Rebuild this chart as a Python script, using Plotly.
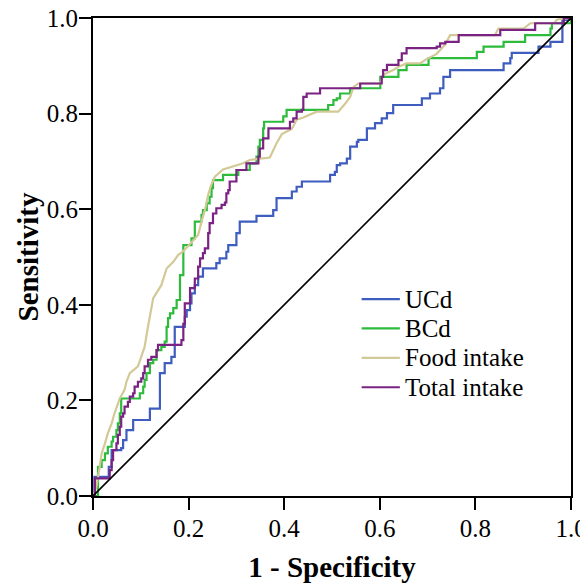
import plotly.graph_objects as go

# ---- data ----
ucd_x = [0, 0.003, 0.033, 0.033, 0.039, 0.059, 0.063, 0.07, 0.084, 0.115, 0.119, 0.14, 0.14, 0.15, 0.164,
         0.171, 0.171, 0.192, 0.192, 0.196, 0.203, 0.206, 0.213, 0.22, 0.23, 0.258, 0.258, 0.265, 0.279,
         0.283, 0.293, 0.3, 0.307, 0.307, 0.342, 0.342, 0.377, 0.377, 0.384, 0.416, 0.416, 0.426, 0.437,
         0.496, 0.496, 0.506, 0.51, 0.517, 0.531, 0.538, 0.552, 0.555, 0.573, 0.59, 0.604, 0.615, 0.628,
         0.681, 0.688, 0.705, 0.726, 0.733, 0.747, 0.855, 0.859, 0.873, 0.876, 0.929, 0.932, 0.957, 0.957,
         0.982, 0.982, 1]
ucd_y = [0, 0.04, 0.04, 0.061, 0.096, 0.1, 0.117, 0.138, 0.159, 0.159, 0.183, 0.183, 0.257, 0.278, 0.291,
         0.326, 0.354, 0.354, 0.375, 0.389, 0.403, 0.424, 0.441, 0.459, 0.476, 0.476, 0.487, 0.497, 0.511,
         0.525, 0.525, 0.55, 0.563, 0.574, 0.574, 0.586, 0.586, 0.598, 0.623, 0.623, 0.637, 0.647, 0.658,
         0.658, 0.672, 0.678, 0.692, 0.696, 0.706, 0.731, 0.741, 0.745, 0.769, 0.78, 0.79, 0.801, 0.818,
         0.818, 0.832, 0.842, 0.853, 0.877, 0.891, 0.891, 0.905, 0.916, 0.927, 0.927, 0.94, 0.94, 0.95,
         0.95, 0.996, 1]

bcd_x = [0, 0.0105, 0.018, 0.025, 0.031, 0.039, 0.042, 0.049, 0.052, 0.056, 0.059, 0.094, 0.098, 0.105,
         0.108, 0.112, 0.119, 0.126, 0.133, 0.143, 0.15, 0.154, 0.157, 0.161, 0.168, 0.175, 0.182, 0.182,
         0.189, 0.189, 0.203, 0.206, 0.213, 0.224, 0.227, 0.23, 0.238, 0.244, 0.248, 0.251, 0.272, 0.272,
         0.304, 0.304, 0.328, 0.328, 0.342, 0.346, 0.349, 0.356, 0.358, 0.398, 0.398, 0.405, 0.492, 0.492,
         0.503, 0.51, 0.517, 0.538, 0.538, 0.597, 0.601, 0.639, 0.639, 0.656, 0.656, 0.695, 0.702, 0.803,
         0.803, 0.817, 0.817, 0.859, 0.859, 0.897, 0.904, 0.953, 0.957, 0.96, 0.985, 1]
bcd_y = [0, 0.061, 0.075, 0.089, 0.103, 0.114, 0.124, 0.138, 0.152, 0.173, 0.204, 0.204, 0.215, 0.229,
         0.243, 0.257, 0.278, 0.285, 0.305, 0.312, 0.323, 0.354, 0.372, 0.382, 0.393, 0.41, 0.438, 0.462,
         0.48, 0.525, 0.525, 0.539, 0.574, 0.574, 0.588, 0.598, 0.612, 0.626, 0.644, 0.661, 0.661, 0.672,
         0.672, 0.682, 0.682, 0.696, 0.71, 0.731, 0.745, 0.769, 0.783, 0.783, 0.794, 0.808, 0.808, 0.818,
         0.828, 0.832, 0.842, 0.842, 0.853, 0.853, 0.877, 0.877, 0.891, 0.891, 0.902, 0.902, 0.916, 0.916,
         0.929, 0.929, 0.94, 0.94, 0.95, 0.95, 0.964, 0.964, 0.978, 0.989, 0.989, 1]

food_x = [0, 0.007, 0.014, 0.018, 0.025, 0.031, 0.039, 0.045, 0.056, 0.066, 0.07, 0.077, 0.094, 0.101,
          0.108, 0.115, 0.126, 0.143, 0.154, 0.168, 0.178, 0.189, 0.22, 0.227, 0.234, 0.241, 0.247, 0.255,
          0.272, 0.314, 0.328, 0.37, 0.384, 0.395, 0.416, 0.426, 0.44, 0.468, 0.513, 0.527, 0.538, 0.545,
          0.555, 0.601, 0.607, 0.628, 0.639, 0.656, 0.684, 0.698, 0.719, 0.737, 0.747, 0.841, 0.848, 0.901,
          0.915, 0.964, 0.971, 1]
food_y = [0, 0.019, 0.061, 0.089, 0.11, 0.131, 0.152, 0.173, 0.204, 0.222, 0.239, 0.257, 0.271, 0.291,
          0.312, 0.354, 0.414, 0.441, 0.476, 0.49, 0.504, 0.512, 0.546, 0.574, 0.598, 0.63, 0.65, 0.668,
          0.683, 0.696, 0.703, 0.708, 0.738, 0.757, 0.768, 0.787, 0.792, 0.804, 0.804, 0.82, 0.835, 0.856,
          0.863, 0.863, 0.881, 0.891, 0.898, 0.905, 0.905, 0.914, 0.925, 0.945, 0.964, 0.964, 0.978, 0.978,
          0.989, 0.989, 0.997, 1]

total_x = [0, 0.004, 0.034, 0.035, 0.039, 0.042, 0.049, 0.052, 0.056, 0.059, 0.063, 0.066, 0.073, 0.077,
           0.084, 0.087, 0.094, 0.101, 0.105, 0.108, 0.115, 0.122, 0.133, 0.136, 0.185, 0.185, 0.189, 0.192,
           0.203, 0.213, 0.22, 0.224, 0.23, 0.234, 0.241, 0.244, 0.251, 0.258, 0.269, 0.276, 0.279, 0.283,
           0.286, 0.3, 0.3, 0.321, 0.321, 0.342, 0.346, 0.349, 0.356, 0.367, 0.367, 0.412, 0.412, 0.419,
           0.426, 0.437, 0.44, 0.447, 0.464, 0.475, 0.541, 0.559, 0.601, 0.604, 0.607, 0.615, 0.636, 0.639,
           0.646, 0.656, 0.719, 0.726, 0.737, 0.761, 0.765, 0.845, 0.852, 0.922, 0.925, 0.978, 0.985, 1]
total_y = [0, 0.037, 0.037, 0.054, 0.075, 0.096, 0.11, 0.128, 0.145, 0.166, 0.173, 0.187, 0.197, 0.208,
           0.215, 0.229, 0.239, 0.246, 0.257, 0.271, 0.285, 0.291, 0.305, 0.316, 0.316, 0.326, 0.36, 0.403,
           0.435, 0.455, 0.48, 0.497, 0.508, 0.518, 0.55, 0.571, 0.591, 0.602, 0.609, 0.614, 0.633, 0.64,
           0.658, 0.668, 0.682, 0.682, 0.696, 0.696, 0.71, 0.727, 0.748, 0.766, 0.769, 0.769, 0.783, 0.79,
           0.804, 0.808, 0.835, 0.842, 0.842, 0.853, 0.853, 0.863, 0.863, 0.877, 0.891, 0.902, 0.902, 0.912,
           0.926, 0.937, 0.94, 0.947, 0.95, 0.95, 0.964, 0.964, 0.975, 0.975, 0.989, 0.989, 1, 1]

ref_x = [0, 1]
ref_y = [0, 1]

tick_vals = [0, 0.2, 0.4, 0.6, 0.8, 1.0]
tick_text = ["0.0", "0.2", "0.4", "0.6", "0.8", "1.0"]

series_names = ["UCd", "BCd", "Food intake", "Total intake"]
series_colors = ["#3F5CBF", "#2DBB3C", "#D3C996", "#7A2382"]
series_shapes = ["hv", "hv", "linear", "hv"]
series_x = [ucd_x, bcd_x, food_x, total_x]
series_y = [ucd_y, bcd_y, food_y, total_y]

FONT = "Liberation Serif, Times New Roman, serif"

fig = go.Figure()
for name, xs, ys, color, shape in zip(series_names, series_x, series_y, series_colors, series_shapes):
    fig.add_trace(go.Scatter(x=xs, y=ys, mode="lines", name=name, showlegend=False,
                             line=dict(color=color, width=2.2, shape=shape)))
fig.add_trace(go.Scatter(x=ref_x, y=ref_y, mode="lines", showlegend=False,
                         line=dict(color="black", width=1.6), hoverinfo="skip"))

# legend drawn in paper coordinates (compact spacing like the reference)
leg_x0, leg_x1, leg_tx = 0.562, 0.642, 0.648
leg_y0, leg_dy = 0.412, 0.0615
for i, (name, color) in enumerate(zip(series_names, series_colors)):
    yy = leg_y0 - i * leg_dy
    fig.add_shape(type="line", xref="paper", yref="paper", x0=leg_x0, x1=leg_x1, y0=yy, y1=yy,
                  line=dict(color=color, width=2.2))
    fig.add_annotation(xref="paper", yref="paper", x=leg_tx, y=yy, text=name, showarrow=False,
                       xanchor="left", yanchor="middle",
                       font=dict(family=FONT, size=25, color="black"))

axis_common = dict(range=[0, 1], tickvals=tick_vals, ticktext=tick_text,
                   ticks="outside", ticklen=12, tickwidth=2, tickcolor="black",
                   showline=True, linewidth=2, linecolor="black", mirror=True,
                   showgrid=False, zeroline=False, automargin=False,
                   ticklabeloverflow="allow",
                   tickfont=dict(family=FONT, size=25, color="black"))

# page body has an 8px default margin, so the figure is 8px smaller than the window
fig.update_layout(
    width=580, height=575,
    margin=dict(l=85, r=17, t=10, b=87, autoexpand=False),
    paper_bgcolor="white", plot_bgcolor="white",
    xaxis=dict(**axis_common, ticklabelstandoff=-3,
               title=dict(text="<b>1 - Specificity</b>", standoff=27,
                          font=dict(family=FONT, size=29, color="black"))),
    yaxis=dict(**axis_common, ticklabelstandoff=-4,
               title=dict(text="<b>Sensitivity</b>", standoff=0,
                          font=dict(family=FONT, size=29, color="black"))),
    showlegend=False,
)

fig.write_html("out.html")
